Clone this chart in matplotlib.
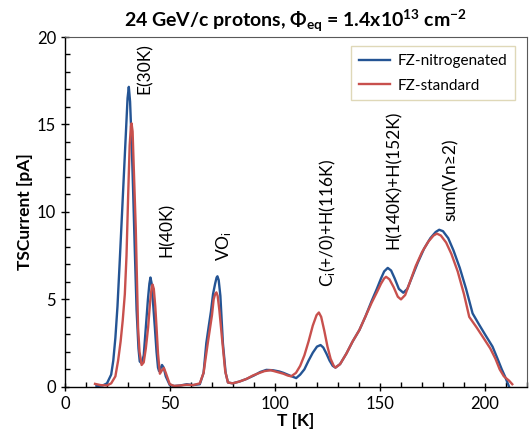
import matplotlib
matplotlib.use("Agg")
import matplotlib.pyplot as plt
from matplotlib.ticker import MultipleLocator

plt.rcParams["font.family"] = ["Lato", "DejaVu Sans"]
plt.rcParams["mathtext.fontset"] = "custom"
plt.rcParams["mathtext.rm"] = "Lato"
plt.rcParams["mathtext.bf"] = "Lato:bold"
plt.rcParams["mathtext.it"] = "Lato:italic"

# TSC spectra, temperature [K] vs current [pA]
t_nitro = [15, 18, 20, 22, 23, 24, 25, 26, 27, 28, 29, 29.8, 30.4, 31, 31.8, 32.5,
           33.3, 34.1, 35, 35.6, 36.5, 37.5, 38.5, 39.5, 40.2, 40.7, 41.3, 42, 42.8,
           43.6, 44.3, 44.8, 45.5, 46.2, 47, 48, 49.9, 52, 55, 58, 61, 64.2, 66, 67.3,
           68.5, 69.5, 70.5, 71.5, 72.2, 72.6, 73.2, 74, 75.2, 76.5, 77.6, 79.8, 83,
           86.4, 90, 93, 95.9, 99, 102, 104, 106, 108, 110.1, 112, 114, 116, 118, 120,
           121.7, 123, 124.5, 126, 127.5, 128.8, 131, 134, 137, 140.2, 143, 146, 148.5,
           150.5, 152, 153.7, 155.3, 157, 159, 161.1, 163, 165, 168, 171, 174, 176.5,
           178.2, 180, 182.5, 185, 188, 191, 194.1, 197, 200, 203.6, 206, 208, 209.5,
           211.5]
i_nitro = [0.05, 0.08, 0.2, 0.7, 1.5, 2.8, 4.6, 7.0, 9.5, 12.0, 14.5, 16.5, 17.15, 16.3,
           13.8, 11.0, 7.6, 4.4, 2.2, 1.45, 1.35, 1.8, 3.4, 5.0, 5.9, 6.25, 5.9, 4.7, 3.4,
           2.0, 1.1, 0.9, 1.05, 1.25, 1.1, 0.6, 0.1, 0.05, 0.08, 0.15, 0.1, 0.15, 0.8,
           2.5, 3.5, 4.3, 5.3, 5.9, 6.25, 6.32, 6.1, 5.2, 2.5, 0.8, 0.25, 0.2, 0.3, 0.45,
           0.65, 0.85, 0.97, 0.95, 0.88, 0.8, 0.7, 0.6, 0.5, 0.7, 1.0, 1.5, 1.95, 2.3,
           2.39, 2.25, 1.9, 1.5, 1.2, 1.1, 1.3, 1.9, 2.6, 3.25, 4.0, 4.9, 5.6, 6.2, 6.6,
           6.8, 6.65, 6.2, 5.6, 5.38, 5.6, 6.2, 7.1, 7.9, 8.5, 8.85, 8.98, 8.9, 8.5, 7.8,
           6.8, 5.6, 4.2, 3.6, 3.0, 2.3, 1.6, 1.0, 0.6, 0.0]

t_std = [14.3, 17, 20, 22, 24, 25.3, 26.5, 27.5, 28.5, 29.3, 30.1, 30.8, 31.4, 31.7,
         32.2, 32.9, 33.7, 34.3, 34.8, 35.5, 36.5, 37.5, 38.5, 39.6, 40.5, 41.2, 41.7,
         42.3, 43, 43.6, 44.3, 45.2, 46.2, 47.1, 48, 49.9, 52, 55, 58, 61, 64.2, 66, 68,
         69, 70, 70.8, 71.5, 72.1, 72.7, 73.5, 75, 76.3, 77.6, 79.8, 83, 86.4, 89.5,
         92.7, 95, 98, 101, 104, 106, 107.7, 110, 112, 114, 116, 118, 119.8, 120.9, 122,
         123.5, 125, 126.5, 128, 128.8, 131, 134, 137, 140.2, 143, 146, 148.5, 150.5,
         152, 152.9, 154.5, 156.5, 158.5, 160, 162, 164, 167, 170, 173, 175.5, 177.1,
         179, 181.5, 184, 187, 190, 192.5, 196, 199, 202.5, 205, 207, 209, 211.5, 213]
i_std = [0.17, 0.1, 0.08, 0.2, 0.6, 1.5, 2.6, 3.8, 5.3, 7.5, 11.0, 13.8, 14.9, 15.06,
         14.6, 12.0, 9.1, 6.0, 3.4, 2.0, 1.25, 1.4, 2.2, 3.4, 4.8, 5.6, 5.85, 5.6, 4.6,
         3.4, 1.9, 0.75, 0.95, 1.08, 0.8, 0.15, 0.05, 0.08, 0.12, 0.1, 0.2, 0.8, 2.5,
         3.3, 4.1, 5.0, 5.3, 5.4, 5.2, 4.4, 2.5, 0.9, 0.25, 0.2, 0.3, 0.45, 0.65, 0.8,
         0.9, 0.95, 0.85, 0.75, 0.65, 0.6, 0.8, 1.2, 1.8, 2.6, 3.5, 4.1, 4.25, 4.0, 3.2,
         2.3, 1.6, 1.2, 1.1, 1.3, 1.9, 2.6, 3.25, 4.0, 4.8, 5.4, 5.9, 6.2, 6.29, 6.15,
         5.7, 5.15, 5.0, 5.25, 5.9, 6.9, 7.7, 8.3, 8.65, 8.76, 8.65, 8.25, 7.6, 6.6, 5.3,
         4.0, 3.4, 2.85, 2.2, 1.6, 1.0, 0.6, 0.35, 0.15]

# defect labels: text, temperature, current at the label's lower end
peak_names = ["E(30K)", "H(40K)", "VO$_\\mathregular{i}$",
              "C$_\\mathregular{i}$(+/0)+H(116K)", "H(140K)+H(152K)", "sum(Vn≥2)"]
peak_t = [38.0, 48.5, 75.6, 125.0, 156.4, 183.5]
peak_i = [16.75, 7.4, 7.2, 5.7, 7.9, 9.5]

fig = plt.figure(figsize=(5.3, 4.48), dpi=100)
ax = fig.add_axes([0.1226, 0.1365, 0.8717, 0.7809])

ax.plot(t_nitro, i_nitro, color="#245494", lw=1.7, label="FZ-nitrogenated")
ax.plot(t_std, i_std, color="#c8504d", lw=1.7, label="FZ-standard")

for name, t, i in zip(peak_names, peak_t, peak_i):
    ax.text(t, i, name, rotation=90, ha="center", va="bottom", fontsize=12.5)

ax.set_xlim(0, 220)
ax.set_ylim(0, 20)
ax.xaxis.set_major_locator(MultipleLocator(50))
ax.xaxis.set_minor_locator(MultipleLocator(10))
ax.yaxis.set_major_locator(MultipleLocator(5))
ax.yaxis.set_minor_locator(MultipleLocator(1))
# majors cross the axis line, minors point inward
ax.tick_params(which="major", direction="inout", length=6, width=1.0,
               color="black", labelsize=12)
ax.tick_params(which="minor", direction="in", length=3.5, width=1.0, color="black")
ax.tick_params(which="both", top=False, right=False)

for side in ("top", "right"):
    ax.spines[side].set_color("#595959")
for side in ("left", "bottom"):
    ax.spines[side].set_color("black")
    ax.spines[side].set_linewidth(1.0)

ax.set_xlabel("T [K]", fontsize=12.5, fontweight="bold", labelpad=1)
ax.set_ylabel("TSCurrent [pA]", fontsize=12.5, fontweight="bold", labelpad=3)
ax.set_title("24 GeV/c protons, $\\mathbf{\\Phi_{eq}}$ = 1.4x10$^{\\mathbf{13}}$ cm$^{\\mathbf{-2}}$",
             fontsize=14, fontweight="bold", pad=7)

leg = ax.legend(loc="upper right", bbox_to_anchor=(0.99, 0.995), fontsize=11,
                frameon=True, fancybox=False, handlelength=2.0, borderpad=0.5,
                labelspacing=0.7, handletextpad=0.5)
leg.get_frame().set_edgecolor("#d8cfa6")
leg.get_frame().set_linewidth(1.0)

fig.savefig("out.png", dpi=100)
plt.close(fig)
